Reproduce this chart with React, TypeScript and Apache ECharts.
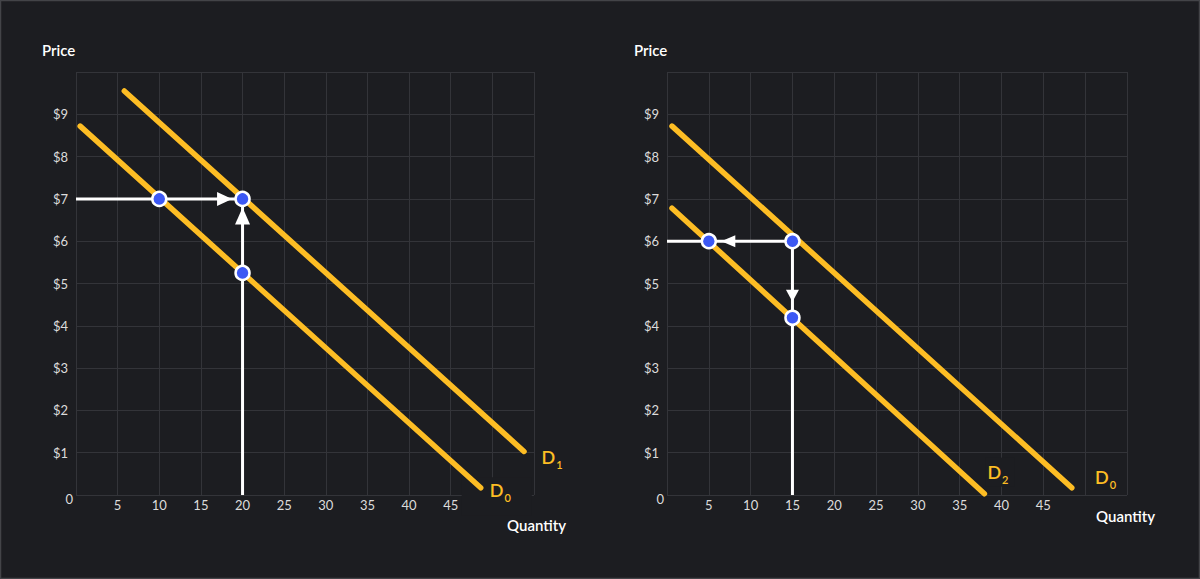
import React, { useEffect, useRef } from 'react';
import * as echarts from 'echarts';

// ---- data ----
const xTickLabels = ['5', '10', '15', '20', '25', '30', '35', '40', '45'];
const yTickLabels = ['0', '$1', '$2', '$3', '$4', '$5', '$6', '$7', '$8', '$9'];

const leftD0 = [[0.5, 8.72], [48.6, 0.17]];
const leftD1 = [[5.8, 9.55], [53.8, 1.03]];
const leftPoints = [[10, 7], [20, 7], [20, 5.25]];
const leftHorizontalGuide = [[0, 7], [20, 7]];
const leftVerticalGuide = [[20, 0], [20, 7]];

const rightD0 = [[0.6, 8.72], [48.4, 0.17]];
const rightD2 = [[0.6, 6.78], [37.95, 0.03]];
const rightPoints = [[5, 6], [15, 6], [15, 4.19]];
const rightHorizontalGuide = [[0, 6], [15, 6]];
const rightVerticalGuide = [[15, 6], [15, 0]];

const curveNames = ['D', 'D', 'D', 'D'];
const curveSubs = ['1', '0', '2', '0'];

// ---- styles ----
const BG = '#1c1d21';
const GRID = '#333439';
const YELLOW = '#fdbd24';
const BLUE = '#3c58f4';
const WHITE = '#ffffff';
const TICK = '#dcdcdc';
const FONT = 'Lato, "Noto Sans", sans-serif';

const labelRich = {
  d: { fontSize: 18, lineHeight: 18, color: YELLOW, fontFamily: FONT, fontWeight: 600, verticalAlign: 'top' },
  s: { fontSize: 11, lineHeight: 11, color: YELLOW, fontFamily: FONT, fontWeight: 600, verticalAlign: 'top', padding: [11, 0, 0, 1] },
};

function curveLabel(i: number, offset: number[], extra: any = {}) {
  return {
    show: true,
    position: 'right',
    distance: 0,
    offset,
    opacity: 1,
    formatter: `{d|${curveNames[i]}}{s|${curveSubs[i]}}`,
    rich: labelRich,
    ...extra,
  };
}

function xAxis(gridIndex: number) {
  return {
    type: 'value',
    gridIndex,
    min: 0,
    max: 55,
    interval: 5,
    axisLine: { show: false },
    axisTick: { show: false },
    splitLine: { show: true, lineStyle: { color: GRID, width: 1 } },
    axisLabel: {
      margin: 3,
      color: TICK,
      fontSize: 13,
      fontFamily: FONT,
      formatter: (v: number) => (xTickLabels.indexOf(String(v)) >= 0 ? String(v) : ''),
    },
  };
}

function yAxis(gridIndex: number) {
  return {
    type: 'value',
    gridIndex,
    min: 0,
    max: 10,
    interval: 1,
    axisLine: { show: false },
    axisTick: { show: false },
    splitLine: { show: true, lineStyle: { color: GRID, width: 1 } },
    axisLabel: {
      margin: 3,
      color: TICK,
      fontSize: 13,
      fontFamily: FONT,
      formatter: (v: number) => {
        if (v === 0) return `{z|${yTickLabels[0]}}`;
        if (v >= 1 && v <= 9) return `{a|${yTickLabels[v]}}`;
        return '';
      },
      rich: {
        a: { color: TICK, fontSize: 13, fontFamily: FONT, padding: [0, 5, 0, 0] },
        z: { color: TICK, fontSize: 13, fontFamily: FONT, padding: [8, 0, 0, 0] },
      },
    },
  };
}

function curve(data: number[][], idx: number) {
  return {
    type: 'line',
    xAxisIndex: idx,
    yAxisIndex: idx,
    data,
    symbol: 'none',
    z: 3,
    silent: true,
    lineStyle: { color: YELLOW, width: 5.5, cap: 'round', opacity: 1 },
  };
}

function guide(data: number[][], idx: number) {
  return {
    type: 'line',
    xAxisIndex: idx,
    yAxisIndex: idx,
    data,
    symbol: 'none',
    z: 4,
    silent: true,
    lineStyle: { color: WHITE, width: 3, opacity: 1 },
  };
}

export default function App() {
  const ref = useRef<HTMLDivElement>(null);

  useEffect(() => {
    if (!ref.current) return;
    const chart = echarts.init(ref.current, null, { renderer: 'svg' });
    const option: any = {
      animation: false,
      backgroundColor: BG,
      grid: [
        { left: 76, top: 72, width: 458, height: 423 },
        { left: 667, top: 72, width: 460, height: 423 },
      ],
      xAxis: [xAxis(0), xAxis(1)],
      yAxis: [yAxis(0), yAxis(1)],
      graphic: [
        {
          type: 'rect',
          shape: { x: 0, y: 0, width: 1200, height: 579 },
          style: { fill: 'none', stroke: '#434448', lineWidth: 2.5 },
          silent: true,
          z: 100,
        },
        { type: 'text', left: 42, top: 42, style: { text: 'Price', fill: WHITE, fontSize: 15, fontWeight: 600, fontFamily: FONT } },
        { type: 'text', left: 634, top: 42, style: { text: 'Price', fill: WHITE, fontSize: 15, fontWeight: 600, fontFamily: FONT } },
        { type: 'text', left: 507, top: 517, style: { text: 'Quantity', fill: WHITE, fontSize: 15, fontWeight: 600, fontFamily: FONT } },
        { type: 'text', left: 1096, top: 508, style: { text: 'Quantity', fill: WHITE, fontSize: 15, fontWeight: 600, fontFamily: FONT } },
      ],
      series: [
        // curve labels (under the curves)
        {
          type: 'scatter',
          xAxisIndex: 0,
          yAxisIndex: 0,
          z: 1,
          silent: true,
          symbolSize: 1,
          itemStyle: { color: 'transparent', opacity: 1 },
          data: [
            { value: leftD1[1], label: curveLabel(0, [17, 6]) },
            {
              value: leftD0[1],
              label: curveLabel(1, [-19.5, 8.5], { backgroundColor: BG, padding: [4, 21, 16, 28] }),
            },
          ],
        },
        {
          type: 'scatter',
          xAxisIndex: 1,
          yAxisIndex: 1,
          z: 1,
          silent: true,
          symbolSize: 1,
          itemStyle: { color: 'transparent', opacity: 1 },
          data: [
            {
              value: rightD2[1],
              label: curveLabel(2, [0.5, -21.6], { backgroundColor: BG, padding: [5, 6, 6, 2] }),
            },
            { value: rightD0[1], label: curveLabel(3, [22.7, -10.9]) },
          ],
        },
        curve(leftD0, 0),
        curve(leftD1, 0),
        curve(rightD0, 1),
        curve(rightD2, 1),
        guide(leftHorizontalGuide, 0),
        guide(leftVerticalGuide, 0),
        guide(rightHorizontalGuide, 1),
        guide(rightVerticalGuide, 1),
        // arrow heads
        {
          type: 'scatter',
          xAxisIndex: 0,
          yAxisIndex: 0,
          z: 5,
          silent: true,
          symbol: 'triangle',
          itemStyle: { color: WHITE, opacity: 1 },
          data: [
            { value: leftPoints[1], symbolSize: [14, 15], symbolRotate: -90, symbolOffset: [-18, 0] },
            { value: leftPoints[1], symbolSize: [15, 17], symbolRotate: 0, symbolOffset: [0, 17] },
          ],
        },
        {
          type: 'scatter',
          xAxisIndex: 1,
          yAxisIndex: 1,
          z: 5,
          silent: true,
          symbol: 'triangle',
          itemStyle: { color: WHITE, opacity: 1 },
          data: [
            { value: rightPoints[0], symbolSize: [12, 14], symbolRotate: 90, symbolOffset: [19.5, 0] },
            { value: rightPoints[2], symbolSize: [13, 12], symbolRotate: 180, symbolOffset: [0, -22] },
          ],
        },
        // points
        {
          type: 'scatter',
          xAxisIndex: 0,
          yAxisIndex: 0,
          z: 6,
          silent: true,
          symbolSize: 14,
          itemStyle: { color: BLUE, borderColor: WHITE, borderWidth: 2.5, opacity: 1 },
          data: leftPoints,
        },
        {
          type: 'scatter',
          xAxisIndex: 1,
          yAxisIndex: 1,
          z: 6,
          silent: true,
          symbolSize: 14,
          itemStyle: { color: BLUE, borderColor: WHITE, borderWidth: 2.5, opacity: 1 },
          data: rightPoints,
        },
      ],
    };
    chart.setOption(option);
    return () => chart.dispose();
  }, []);

  return (
    <div
      ref={ref}
      style={{ position: 'fixed', left: 0, top: 0, width: 1200, height: 579 }}
    />
  );
}
